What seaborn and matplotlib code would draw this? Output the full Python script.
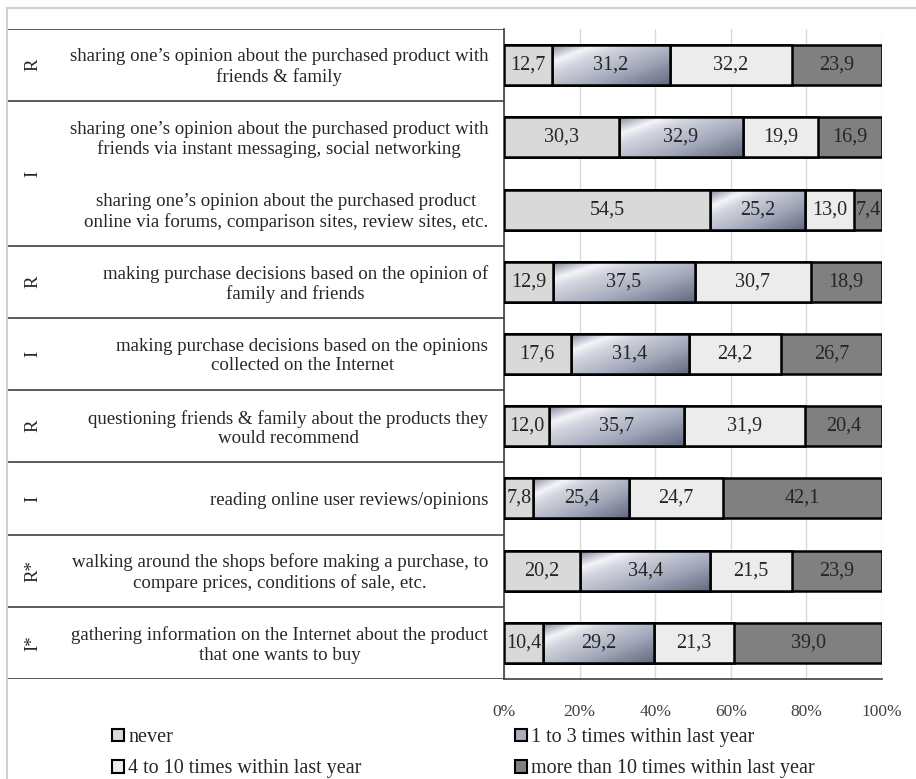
import numpy as np
import pandas as pd
import matplotlib
matplotlib.use("Agg")
import matplotlib.pyplot as plt
import matplotlib.patches as mpatches
from matplotlib.colors import LinearSegmentedColormap
import seaborn as sns

# ---------------- data ----------------
categories = [
    "sharing one’s opinion about the purchased product with\nfriends & family",
    "sharing one’s opinion about the purchased product with\nfriends via instant messaging, social networking",
    "sharing one’s opinion about the purchased product\nonline via forums, comparison sites, review sites, etc.",
    "making purchase decisions based on the opinion of\nfamily and friends",
    "making purchase decisions based on the opinions\ncollected on the Internet",
    "questioning friends & family about the products they\nwould recommend",
    "reading online user reviews/opinions",
    "walking around the shops before making a purchase, to\ncompare prices, conditions of sale, etc.",
    "gathering information on the Internet about the product\nthat one wants to buy",
]
groups = ["R", "I", "R", "I", "R", "I", "R*", "I*"]
group_rows = [[0], [1, 2], [3], [4], [5], [6], [7], [8]]

never = [12.7, 30.3, 54.5, 12.9, 17.6, 12.0, 7.8, 20.2, 10.4]
one_to_three = [31.2, 32.9, 25.2, 37.5, 31.4, 35.7, 25.4, 34.4, 29.2]
four_to_ten = [32.2, 19.9, 13.0, 30.7, 24.2, 31.9, 24.7, 21.5, 21.3]
more_than_ten = [23.9, 16.9, 7.4, 18.9, 26.7, 20.4, 42.1, 23.9, 39.0]

series_names = ["never", "1 to 3 times within last year",
                "4 to 10 times within last year", "more than 10 times within last year"]
xticks = [0, 20, 40, 60, 80, 100]
xtick_labels = ["0%", "20%", "40%", "60%", "80%", "100%"]

# ---------------- style ----------------
sns.set_theme(style="white")
plt.rcParams["font.family"] = ["Liberation Serif", "DejaVu Serif"]

W, H = 916, 779
fig = plt.figure(figsize=(W / 100, H / 100), dpi=100)
fig.patch.set_facecolor("white")

x0, x1, ytop, ybot = 504, 882, 29, 679
ax = fig.add_axes([x0 / W, 1 - ybot / H, (x1 - x0) / W, (ybot - ytop) / H])
axt = fig.add_axes([7 / W, 1 - ybot / H, (x0 - 7) / W, (ybot - ytop) / H])

df = pd.DataFrame({"category": categories, "never": never, "one": one_to_three,
                   "four": four_to_ten, "more": more_than_ten})
total = df[["never", "one", "four", "more"]].sum(axis=1)
df["c1"] = df["never"] / total * 100
df["c2"] = (df["never"] + df["one"]) / total * 100
df["c3"] = (df["never"] + df["one"] + df["four"]) / total * 100
df["c4"] = 100.0

colors = {"never": "#d9d9d9", "one": "#a9aebe", "four": "#ececec", "more": "#808080"}
bw = 0.555
common = dict(y="category", data=df, order=categories, orient="h", width=bw,
              errorbar=None, saturation=1, edgecolor="black", linewidth=1.8, ax=ax)

sns.barplot(x="c4", color=colors["more"], zorder=2, **common)
sns.barplot(x="c3", color=colors["four"], zorder=3, **common)
n_before = len(ax.patches)
sns.barplot(x="c2", color=colors["one"], zorder=4, **common)
grad_patches = ax.patches[n_before:]
sns.barplot(x="c1", color=colors["never"], zorder=6, **common)

# metallic gradient for the "1 to 3" series
cmap = LinearSegmentedColormap.from_list(
    "metal", [(0.0, "#7f8599"), (0.2, "#f4f5f8"), (0.32, "#d3d6df"),
              (0.65, "#a3a8ba"), (1.0, "#636a80")])
gy, gx = np.mgrid[0:40, 0:120]
grad = (gx / 120.0 + 0.9 * gy / 40.0)
grad = grad / grad.max()
for i, p in enumerate(grad_patches):
    left, right = df["c1"][i], df["c2"][i]
    yb, hh = p.get_y(), p.get_height()
    im = ax.imshow(grad, cmap=cmap, extent=(left, right, yb + hh, yb),
                   aspect="auto", interpolation="bilinear", zorder=4.5)
    im.set_clip_path(p)
    ax.add_patch(mpatches.Rectangle((left, yb), right - left, hh, fill=False,
                                    ec="black", lw=1.8, zorder=5))

# value labels
def fmt(v):
    return f"{v:.1f}".replace(".", ",")

starts = [np.zeros(len(df)), df["c1"].values, df["c2"].values, df["c3"].values]
ends = [df["c1"].values, df["c2"].values, df["c3"].values, df["c4"].values]
vals = [never, one_to_three, four_to_ten, more_than_ten]
for s, e, v in zip(starts, ends, vals):
    for i in range(len(df)):
        ax.text((s[i] + e[i]) / 2, i, fmt(v[i]), ha="center", va="center",
                fontsize=14.5, color="#262626", zorder=8)

ax.set_xlim(0, 100)
ax.set_ylim(len(categories) - 0.5, -0.5)
ax.set_xticks(xticks)
ax.set_xticklabels(xtick_labels, fontsize=12.5, color="#404040")
ax.tick_params(axis="x", length=0, pad=18)
ax.set_yticks([])
ax.set_xlabel("")
ax.set_ylabel("")
ax.grid(axis="x", color="#d9d9d9", lw=1)
ax.set_axisbelow(True)
for side in ["top", "right"]:
    ax.spines[side].set_visible(False)
for side in ["left", "bottom"]:
    ax.spines[side].set_color("#404040")
    ax.spines[side].set_linewidth(1.2)

# table on the left
axt.set_xlim(0, 1)
axt.set_ylim(len(categories) - 0.5, -0.5)
axt.axis("off")
bounds = [-0.5] + [rows[-1] + 0.5 for rows in group_rows]
for b in bounds:
    axt.axhline(b, color="#404040", lw=1.2)
gx_pos = (33 - 7) / (x0 - 7)
tx_pos = (488 - 7) / (x0 - 7)
for g, rows in zip(groups, group_rows):
    axt.text(gx_pos, np.mean(rows), g, rotation=90, ha="center", va="center",
             fontsize=13.6, color="#262626")
for i, c in enumerate(categories):
    axt.text(tx_pos, i + 0.03, c, ha="right", va="center", multialignment="center",
             fontsize=13.6, color="#262626", linespacing=1.2)

# outer frame (left and top edges)
fig.add_artist(mpatches.Rectangle((7 / W, -0.5), 2, 0.5 + 1 - 8 / H, fill=False,
                                  ec="#d0d0d0", lw=1.5, transform=fig.transFigure))

# legend
handles = [mpatches.Patch(facecolor=colors[k], edgecolor="black", lw=1.5)
           for k in ["never", "one", "four", "more"]]
lkw = dict(frameon=False, fontsize=14.5, handlelength=0.6, handleheight=0.6,
           handletextpad=0.2, labelspacing=0.62, borderpad=0, borderaxespad=0,
           loc="upper left")
leg1 = fig.legend([handles[0], handles[2]], [series_names[0], series_names[2]],
                  bbox_to_anchor=(112 / W, 1 - 728 / H), **lkw)
for t in leg1.get_texts():
    t.set_color("#262626")
leg2 = fig.legend([handles[1], handles[3]], [series_names[1], series_names[3]],
                  bbox_to_anchor=(515 / W, 1 - 728 / H), **lkw)
for t in leg2.get_texts():
    t.set_color("#262626")

fig.savefig("out.png", dpi=100)
